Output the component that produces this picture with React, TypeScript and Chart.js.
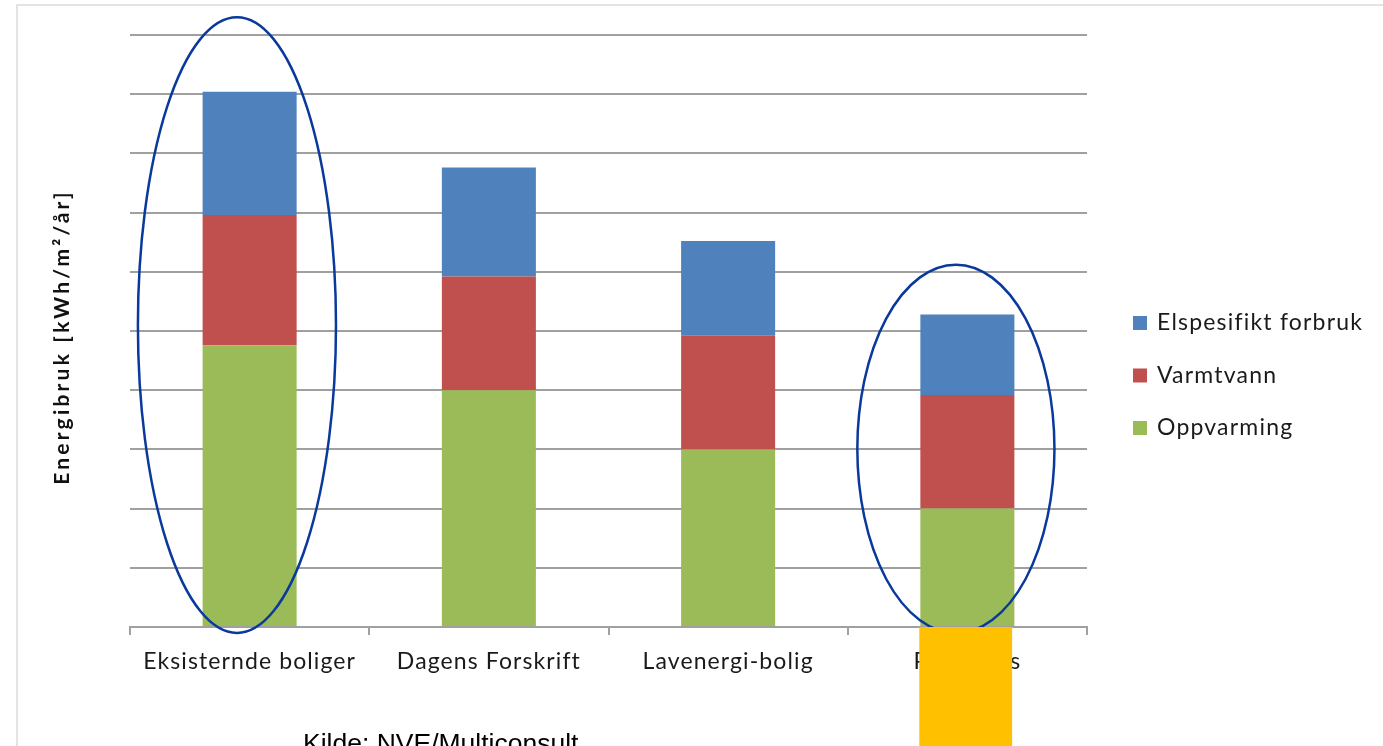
import React, { useEffect, useRef } from "react";
import { Chart, registerables } from "chart.js";

Chart.register(...registerables);

const categories = ["Eksisternde boliger", "Dagens Forskrift", "Lavenergi-bolig", "Passivhus"];
const oppvarming = [119, 100, 75, 50];
const varmtvann = [55, 48, 48, 48];
const elspesifikt = [52, 46, 40, 34];
const yMin = 0;
const yMax = 250;
const yStep = 25;
const yTitle = "Energibruk [kWh/m²/år]";
const sourceText = "Kilde: NVE/Multiconsult";

// highlight ellipses in data units: category index offset, half width in categories, value range
const ellipses = [
  { cat: 0, dx: -0.053, halfCats: 0.414, top: 257.5, bottom: -2.5 },
  { cat: 3, dx: -0.048, halfCats: 0.412, top: 153, bottom: -2.5 },
];
// orange cover box
const cover = { cat: 3, dx: -0.007, halfCats: 0.194, fromValue: 0 };

const COLORS = {
  blue: "#4F81BD",
  red: "#C0504D",
  green: "#9BBB59",
  grid: "#a0a0a0",
  ellipse: "#0a399c",
  orange: "#FFC000",
};

const spacingPlugin = {
  id: "spacing",
  beforeDraw(chart: any) {
    (chart.ctx as any).letterSpacing = "1.1px";
  },
};

const overlayPlugin = {
  id: "overlay",
  afterDraw(chart: any) {
    const ctx = chart.ctx as any;
    const xs = chart.scales.x;
    const ys = chart.scales.y;
    const catW = (xs.right - xs.left) / categories.length;
    ctx.save();

    // frame lines (top & left)
    ctx.strokeStyle = "#e4e4e4";
    ctx.lineWidth = 2;
    ctx.beginPath();
    ctx.moveTo(17, chart.height);
    ctx.lineTo(17, 5);
    ctx.lineTo(chart.width, 5);
    ctx.stroke();

    // y title
    ctx.save();
    ctx.translate(62, 337);
    ctx.rotate(-Math.PI / 2);
    ctx.letterSpacing = "3.2px";
    ctx.font = "bold 21px Lato";
    ctx.fillStyle = "#111";
    ctx.textAlign = "center";
    ctx.textBaseline = "middle";
    ctx.fillText(yTitle, 0, 0);
    ctx.restore();

    // ellipses
    ctx.strokeStyle = COLORS.ellipse;
    ctx.lineWidth = 2.5;
    ellipses.forEach((e) => {
      const cx = xs.getPixelForValue(e.cat) + e.dx * catW;
      const t = ys.getPixelForValue(e.top);
      const b = ys.getPixelForValue(e.bottom);
      ctx.beginPath();
      ctx.ellipse(cx, (t + b) / 2, e.halfCats * catW, (b - t) / 2, 0, 0, Math.PI * 2);
      ctx.stroke();
    });

    // orange cover
    const ccx = xs.getPixelForValue(cover.cat) + cover.dx * catW;
    const cy0 = ys.getPixelForValue(cover.fromValue);
    ctx.fillStyle = COLORS.orange;
    ctx.fillRect(ccx - cover.halfCats * catW, cy0, cover.halfCats * catW * 2, chart.height - cy0);

    // legend (reversed order)
    const ds = chart.data.datasets;
    const lx = xs.right + 46;
    const ly0 = 323;
    const gap = 52.5;
    ctx.letterSpacing = "1.2px";
    ctx.font = "23px Lato";
    ctx.textBaseline = "middle";
    ctx.textAlign = "left";
    for (let i = ds.length - 1, k = 0; i >= 0; i--, k++) {
      const yy = ly0 + k * gap;
      ctx.fillStyle = ds[i].backgroundColor;
      ctx.fillRect(lx, yy - 7, 14, 14);
      ctx.fillStyle = "#1a1a1a";
      ctx.fillText(ds[i].label, lx + 24, yy);
    }

    // source text
    ctx.letterSpacing = "0px";
    ctx.font = "26.5px 'Liberation Sans', Arial";
    ctx.fillStyle = "#000";
    ctx.textBaseline = "alphabetic";
    ctx.fillText(sourceText, 303, 752);

    ctx.restore();
  },
};

export default function App() {
  const ref = useRef<HTMLCanvasElement>(null);
  useEffect(() => {
    if (!ref.current) return;
    const chart = new Chart(ref.current, {
      type: "bar",
      data: {
        labels: categories,
        datasets: [
          { label: "Oppvarming", data: oppvarming, backgroundColor: COLORS.green },
          { label: "Varmtvann", data: varmtvann, backgroundColor: COLORS.red },
          { label: "Elspesifikt forbruk", data: elspesifikt, backgroundColor: COLORS.blue },
        ],
      },
      options: {
        responsive: false,
        animation: false,
        layout: { padding: { left: 130, right: 296, top: 35, bottom: 0 } },
        datasets: { bar: { categoryPercentage: 1, barPercentage: 0.393 } },
        plugins: { legend: { display: false }, tooltip: { enabled: false } },
        scales: {
          x: {
            stacked: true,
            afterFit: (s: any) => {
              s.height = 119;
            },
            grid: {
              offset: true,
              drawOnChartArea: false,
              drawTicks: true,
              tickLength: 8,
              color: COLORS.grid,
              lineWidth: 2,
            },
            border: { display: true, color: COLORS.grid, width: 2 },
            ticks: { font: { family: "Lato", size: 23 }, color: "#1a1a1a", padding: 13, maxRotation: 0 },
          },
          y: {
            stacked: true,
            min: yMin,
            max: yMax,
            afterFit: (s: any) => {
              s.width = 0;
            },
            ticks: { display: false, stepSize: yStep },
            grid: { drawTicks: false, color: COLORS.grid, lineWidth: 2 },
            border: { display: false },
          },
        },
      },
      plugins: [spacingPlugin, overlayPlugin],
    });
    return () => chart.destroy();
  }, []);
  return (
    <div style={{ position: "fixed", left: 0, top: 0, width: 1383, height: 746, background: "#fff" }}>
      <canvas ref={ref} width={1383} height={746} style={{ width: 1383, height: 746, display: "block" }} />
    </div>
  );
}
